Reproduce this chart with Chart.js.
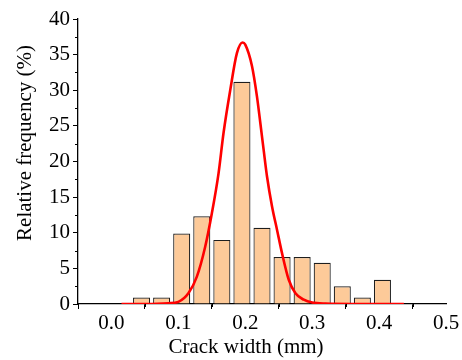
<!DOCTYPE html>
<html>
<head>
<meta charset="utf-8">
<script src="https://cdn.jsdelivr.net/npm/chart.js@4.4.1/dist/chart.umd.min.js"></script>
<style>
  html, body { margin: 0; padding: 0; background: #fff; }
  #wrap { width: 462px; height: 360px; }
</style>
</head>
<body>
<div id="wrap"><canvas id="chart"></canvas></div>
<script>
// Histogram bins (bin centre, mm) and relative frequency (%)
const BIN_CENTERS = [0.045, 0.075, 0.105, 0.135, 0.165, 0.195, 0.225, 0.255, 0.285, 0.315, 0.345, 0.375, 0.405];
const FREQUENCY = [0.9, 0.9, 9.9, 12.3, 9.0, 31.2, 10.7, 6.6, 6.6, 5.8, 2.5, 0.9, 3.4];

// Fitted curve
const CURVE_X = [0.015, 0.05, 0.085, 0.1, 0.115, 0.1275, 0.14, 0.15, 0.16, 0.1675, 0.1775, 0.1875, 0.196,
    0.2, 0.21, 0.2175, 0.2225, 0.2275, 0.2325, 0.24, 0.2475, 0.255, 0.265, 0.275, 0.2875, 0.3, 0.32, 0.36, 0.437];
const CURVE_Y = [0, 0, 0.1, 0.3, 1.5, 3.8, 8.0, 12.7, 18.3, 24.0, 30.0, 35.2, 36.7,
    36.4, 33.4, 29.1, 25.4, 21.6, 17.9, 13.7, 10.4, 7.1, 3.4, 1.5, 0.6, 0.2, 0.05, 0, 0];

// Axis ticks
const X_MAJOR = [0, 0.1, 0.2, 0.3, 0.4, 0.5];
const X_MINOR = [-0.05, 0.05, 0.15, 0.25, 0.35, 0.45];
const Y_MAJOR = [0, 5, 10, 15, 20, 25, 30, 35, 40];
const Y_MINOR = [2.5, 7.5, 12.5, 17.5, 22.5, 27.5, 32.5, 37.5];

const FONT = '"Liberation Serif", "Times New Roman", serif';

// minor ticks and axis titles
const extras = {
    id: 'extras',
    afterDraw(chart) {
        const ctx = chart.ctx;
        const xs = chart.scales.x, ys = chart.scales.y;
        ctx.save();
        ctx.strokeStyle = '#000';
        ctx.lineWidth = 1;
        ctx.beginPath();
        X_MINOR.forEach(v => {
            const px = Math.round(xs.getPixelForValue(v)) + 0.5;
            ctx.moveTo(px, xs.top);
            ctx.lineTo(px, xs.top + 3);
        });
        Y_MINOR.forEach(v => {
            const py = Math.round(ys.getPixelForValue(v)) + 0.5;
            ctx.moveTo(ys.right, py);
            ctx.lineTo(ys.right - 3, py);
        });
        ctx.stroke();

        ctx.fillStyle = '#000';
        ctx.font = '21px ' + FONT;
        ctx.textAlign = 'center';
        ctx.textBaseline = 'alphabetic';
        ctx.fillText('Crack width (mm)', 246, 353);

        ctx.translate(31, 143);
        ctx.rotate(-Math.PI / 2);
        ctx.fillText('Relative frequency (%)', 0, 0);
        ctx.restore();
    }
};

const barData = BIN_CENTERS.map((x, i) => ({ x: x, y: FREQUENCY[i] }));
const curveData = CURVE_X.map((x, i) => ({ x: x, y: CURVE_Y[i] }));

new Chart(document.getElementById('chart'), {
    type: 'bar',
    data: {
        datasets: [{
            type: 'line',
            data: curveData,
            borderColor: '#ff0000',
            borderWidth: 2.6,
            pointRadius: 0,
            fill: false,
            cubicInterpolationMode: 'monotone'
        }, {
            type: 'bar',
            data: barData,
            backgroundColor: '#fdca99',
            borderColor: '#1e1e1e',
            borderWidth: 1.2,
            categoryPercentage: 1,
            barPercentage: 0.85
        }]
    },
    options: {
        responsive: true,
        maintainAspectRatio: false,
        animation: false,
        layout: { padding: { left: 38, right: 16, top: 19, bottom: 0 } },
        plugins: {
            legend: { display: false },
            tooltip: { enabled: false }
        },
        scales: {
            x: {
                type: 'linear',
                min: -0.05,
                max: 0.5,
                offset: false,
                afterBuildTicks: s => { s.ticks = X_MAJOR.map(v => ({ value: v })); },
                afterFit: s => { s.height = 56; },
                grid: { drawOnChartArea: false, drawTicks: true, tickLength: 5, color: '#000' },
                border: { display: true, color: '#000', width: 1.3 },
                ticks: {
                    color: '#000',
                    font: { family: FONT, size: 21 },
                    padding: 2,
                    maxRotation: 0,
                    callback: v => v.toFixed(1)
                }
            },
            y: {
                min: 0,
                max: 40,
                afterBuildTicks: s => { s.ticks = Y_MAJOR.map(v => ({ value: v })); },
                afterFit: s => { s.width = 40; },
                grid: { drawOnChartArea: false, drawTicks: true, tickLength: 5, color: '#000' },
                border: { display: true, color: '#000', width: 1.3 },
                ticks: {
                    color: '#000',
                    font: { family: FONT, size: 21 },
                    padding: 3
                }
            }
        }
    },
    plugins: [extras]
});
</script>
</body>
</html>
